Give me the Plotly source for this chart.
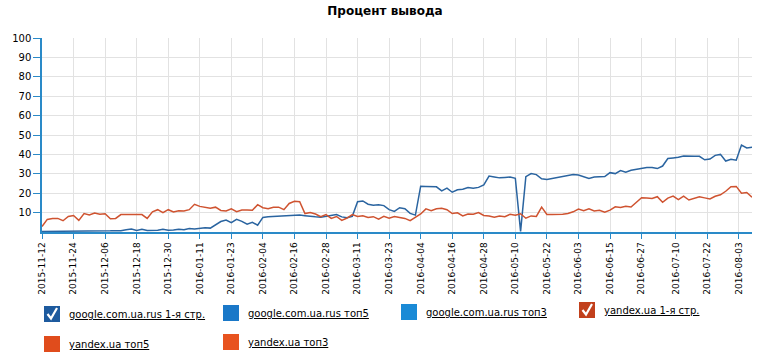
import datetime as dt
import plotly.graph_objects as go

# ---------------- data ----------------
TITLE = "Процент вывода"
START = dt.date(2015, 11, 12)
N_POINTS = 136
dates = [(START + dt.timedelta(days=2 * k)).isoformat() for k in range(N_POINTS)]

google_1 = [
    0.3, 0.3, 0.3, 0.3, 0.3, 0.3, 0.3, 0.3, 0.3, 0.3,
    0.4, 0.6, 0.6, 0.6, 0.7, 0.7,
    1.2, 1.5, 0.8, 1.4, 0.8,
    0.8, 0.9, 1.4, 0.9, 1.0,
    1.4, 1.2, 1.8, 1.6, 2.0,
    2.2, 2.0, 3.7, 5.4, 6.2,
    4.8, 6.5, 5.5, 4.0, 5.0,
    3.5, 7.5, 7.8, 7.9, 8.0,
    8.1, 8.3, 8.5, 8.7, 8.4,
    8.0, 7.8, 7.6, 8.0, 8.4,
    9.0, 7.8, 7.4, 8.1, 15.6,
    16.0, 14.3, 13.8, 14.0, 13.6,
    11.5, 10.6, 12.5, 12.0, 9.6,
    8.7, 23.6, 23.5, 23.4, 23.3,
    21.2, 22.6, 20.5, 21.8, 22.0,
    22.9, 22.6, 23.0, 24.3, 28.8,
    28.4, 27.9, 28.1, 28.3, 27.7,
    0.3, 28.5, 30.1, 29.6, 27.4,
    27.1, 27.6, 27.9, 28.6, 29.2,
    29.6, 29.4, 28.4, 27.6, 28.3,
    28.4, 28.6, 30.6, 30.1, 31.7,
    30.8, 31.8, 32.3, 33.0, 33.2,
    33.3, 32.7, 34.0, 37.9, 38.2,
    38.5, 39.2, 39.0, 39.1, 39.0,
    37.2, 37.6, 39.5, 40.0, 36.6,
    37.5, 37.0, 44.8, 43.3, 43.7,
]

yandex_1 = [
    2.8, 6.5, 6.9, 7.0, 5.8,
    8.0, 8.5, 6.0, 9.5, 8.8,
    9.8, 9.2, 9.4, 6.8, 7.0,
    9.0, 9.0, 9.0, 9.0, 9.0,
    7.0, 10.4, 11.5, 10.0, 11.5,
    10.3, 11.0, 10.8, 11.5, 14.3,
    13.2, 12.7, 12.2, 12.8, 11.1,
    10.8, 12.0, 10.5, 11.3, 11.3,
    11.2, 14.1, 12.5, 12.0, 12.8,
    12.8, 11.5, 14.7, 15.8, 15.6,
    9.5, 10.0, 9.3, 7.9, 9.0,
    7.0, 8.0, 6.0, 7.2, 9.0,
    8.0, 8.4, 7.5, 7.9, 6.6,
    8.1, 7.1, 8.0, 7.5, 7.0,
    5.8, 7.5, 9.3, 11.9, 11.0,
    12.0, 12.2, 11.5, 9.5, 9.9,
    8.3, 9.3, 9.2, 10.0, 8.5,
    8.2, 7.6, 8.3, 7.9, 9.1,
    8.6, 9.4, 7.1, 8.3, 8.0,
    12.8, 9.0, 9.0, 9.0, 9.2,
    9.5, 10.4, 11.8, 11.0, 12.0,
    10.8, 11.2, 10.2, 11.3, 13.0,
    12.6, 13.3, 12.9, 15.5, 17.7,
    17.5, 17.3, 18.2, 15.3, 17.5,
    18.5, 16.7, 18.5, 16.5, 17.5,
    18.2, 17.6, 17.0, 18.4, 19.2,
    21.0, 23.3, 23.5, 20.0, 20.4,
    17.9,
]

tick_dates = [
    "2015-11-12", "2015-11-24", "2015-12-06", "2015-12-18", "2015-12-30",
    "2016-01-11", "2016-01-23", "2016-02-04", "2016-02-16", "2016-02-28",
    "2016-03-11", "2016-03-23", "2016-04-04", "2016-04-16", "2016-04-28",
    "2016-05-10", "2016-05-22", "2016-06-03", "2016-06-15", "2016-06-27",
    "2016-07-10", "2016-07-22", "2016-08-03",
]
y_ticks = [10, 20, 30, 40, 50, 60, 70, 80, 90, 100]

legend_names = [
    "google.com.ua.rus 1-я стр.", "google.com.ua.rus топ5", "google.com.ua.rus топ3",
    "yandex.ua 1-я стр.", "yandex.ua топ5", "yandex.ua топ3",
]
legend_colors = ["#1d5a9e", "#1a78c8", "#1a8ad6", "#c2401c", "#e04c1c", "#e8531f"]
legend_checked = [True, False, False, True, False, False]

# ---------------- layout constants ----------------
W, H = 770, 360
L, R, T, B = 42, 18, 38, 128
PW, PH = W - L - R, H - T - B
AXIS_BLUE = "#2a8ac8"
GRID = "#e2e2e2"
FONT = "Verdana, DejaVu Sans, sans-serif"


def px(x):
    return (x - L) / PW


def py(y):
    return (H - B - y) / PH


fig = go.Figure()
fig.add_trace(go.Scatter(x=dates, y=google_1, mode="lines", name=legend_names[0],
                         line=dict(color="#2a64a0", width=1.5), showlegend=False))
fig.add_trace(go.Scatter(x=dates, y=yandex_1, mode="lines", name=legend_names[3],
                         line=dict(color="#cf5330", width=1.5), showlegend=False))

# custom legend (squares with check marks + underlined labels)
LEG_POS = [(44, 314), (223, 313), (401, 312), (579, 310), (44, 344), (223, 342)]
SQ = 16
shapes, annotations = [], []
for name, col, chk, (sx, cy) in zip(legend_names, legend_colors, legend_checked, LEG_POS):
    shapes.append(dict(type="rect", xref="paper", yref="paper",
                       x0=px(sx), x1=px(sx + SQ), y0=py(cy + SQ / 2), y1=py(cy - SQ / 2),
                       fillcolor=col, line=dict(width=0)))
    if chk:
        path = "M {:.5f},{:.5f} L {:.5f},{:.5f} L {:.5f},{:.5f}".format(
            px(sx + 3.5), py(cy), px(sx + 7), py(cy + 4.5), px(sx + 13), py(cy - 6))
        shapes.append(dict(type="path", xref="paper", yref="paper", path=path,
                           line=dict(color="white", width=2.2)))
    annotations.append(dict(xref="paper", yref="paper", x=px(sx + 23), y=py(cy),
                            xanchor="left", yanchor="middle", showarrow=False,
                            text="<u>" + name + "</u>",
                            font=dict(size=10, family=FONT, color="#000")))

fig.update_layout(
    width=W, height=H,
    margin=dict(l=L, r=R, t=T, b=B, autoexpand=False),
    paper_bgcolor="white", plot_bgcolor="white",
    title=dict(text="<b>" + TITLE + "</b>", x=0.5, xanchor="center",
               y=1 - 11 / H, yanchor="middle", yref="container",
               font=dict(size=12, family=FONT, color="#000")),
    shapes=shapes, annotations=annotations,
    showlegend=False,
)
fig.update_xaxes(
    type="date", range=["2015-11-12", "2016-08-08"],
    tickmode="array", tickvals=tick_dates, ticktext=tick_dates, tickangle=-90,
    ticks="outside", ticklen=5, tickcolor=AXIS_BLUE, tickwidth=1,
    showline=True, linecolor=AXIS_BLUE, linewidth=1.5,
    showgrid=True, gridcolor=GRID, gridwidth=1, zeroline=False,
    tickfont=dict(size=9, family=FONT, color="#000"),
)
fig.update_yaxes(
    range=[0, 100], tickmode="array", tickvals=y_ticks,
    ticks="outside", ticklen=7, tickcolor=AXIS_BLUE, tickwidth=1,
    showline=True, linecolor=AXIS_BLUE, linewidth=1.5,
    showgrid=True, gridcolor=GRID, gridwidth=1, zeroline=False,
    tickfont=dict(size=10, family=FONT, color="#000"),
)

# the page body has a default 8px margin; remove it so the figure fills the window
fig.write_html("out.html",
               config={"displayModeBar": False},
               post_script="document.body.style.margin='0';document.body.style.padding='0';")
